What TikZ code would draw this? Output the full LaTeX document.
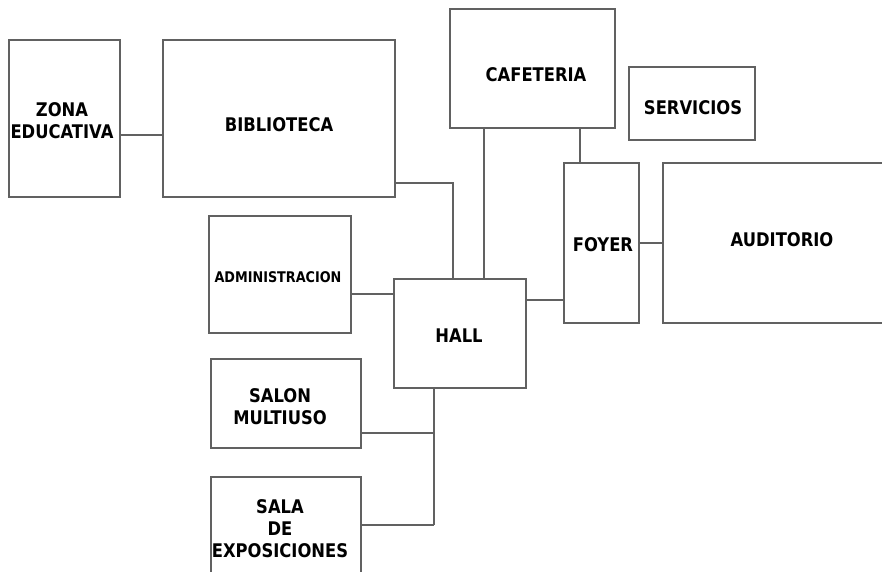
\documentclass[tikz,border=0pt]{standalone}
\usepackage{fontspec}
\newfontfamily\lblfont{DejaVu Sans}[FakeStretch=0.87]
\begin{document}
\begin{tikzpicture}[x=1pt,y=-1pt,
  room/.style={draw=black!62, line width=1.25pt, rectangle, inner sep=0pt},
  lbl/.style={font=\lblfont\bfseries\fontsize{18.8}{22}\selectfont, align=center, inner sep=0pt, text=black},
  smalllbl/.style={font=\lblfont\bfseries\fontsize{14.7}{18}\selectfont, align=center, inner sep=0pt, text=black},
  link/.style={draw=black!62, line width=1.25pt}]
\useasboundingbox (0,0) rectangle (882,571);
\clip (0,0) rectangle (882,571);
\fill[white] (0,0) rectangle (882,571);
% rooms
\node[room, minimum width=111pt, minimum height=157pt] (zona) at (64.5,118.5) {};
\node[room, minimum width=232pt, minimum height=157pt] (bib) at (279,118.5) {};
\node[room, minimum width=165pt, minimum height=119pt] (cafe) at (532.5,68.5) {};
\node[room, minimum width=126pt, minimum height=73pt] (serv) at (692,103.5) {};
\node[room, minimum width=75pt, minimum height=160pt] (foyer) at (601.5,243) {};
\node[room, minimum width=237pt, minimum height=160pt] (aud) at (781.5,243) {};
\node[room, minimum width=142pt, minimum height=117pt] (admin) at (280,274.5) {};
\node[room, minimum width=132pt, minimum height=109pt] (hall) at (460,333.5) {};
\node[room, minimum width=150pt, minimum height=89pt] (salon) at (286,403.5) {};
\node[room, minimum width=150pt, minimum height=123pt] (sala) at (286,538.5) {};
% labels
\node[lbl] (tzona) at (62,121) {ZONA\\EDUCATIVA};
\node[lbl] (tbib) at (279,125) {BIBLIOTECA};
\node[lbl] (tcafe) at (536,75) {CAFETERIA};
\node[lbl] (tserv) at (693,108) {SERVICIOS};
\node[lbl] (tfoyer) at (603,245) {FOYER};
\node[lbl] (taud) at (782,240) {AUDITORIO};
\node[smalllbl] (tadmin) at (278,277) {ADMINISTRACION};
\node[lbl] (thall) at (459,336) {HALL};
\node[lbl] (tsalon) at (280,407) {SALON\\MULTIUSO};
\node[lbl] (tsala) at (280,529) {SALA\\DE\\EXPOSICIONES};
% junction coordinates
\coordinate (jz) at (0,135);
\coordinate (jb) at (453,183);
\coordinate (jc) at (484,0);
\coordinate (jf) at (580,0);
\coordinate (jh) at (0,300);
\coordinate (ja) at (0,294);
\coordinate (jv) at (434,0);
\coordinate (jm) at (434,433);
\coordinate (jx) at (434,525);
% connectors
\draw[link] (zona.east |- jz) -- (bib.west |- jz);
\draw[link] (bib.east |- jb) -| (hall.north -| jb);
\draw[link] (cafe.south -| jc) -- (hall.north -| jc);
\draw[link] (cafe.south -| jf) -- (foyer.north -| jf);
\draw[link] (foyer.east) -- (aud.west);
\draw[link] (hall.east |- jh) -- (foyer.west |- jh);
\draw[link] (admin.east |- ja) -- (hall.west |- ja);
\draw[link] (hall.south -| jv) -- (jx);
\draw[link] (salon.east |- jm) -- (jm);
\draw[link] (sala.east |- jx) -- (jx);
\end{tikzpicture}
\end{document}
